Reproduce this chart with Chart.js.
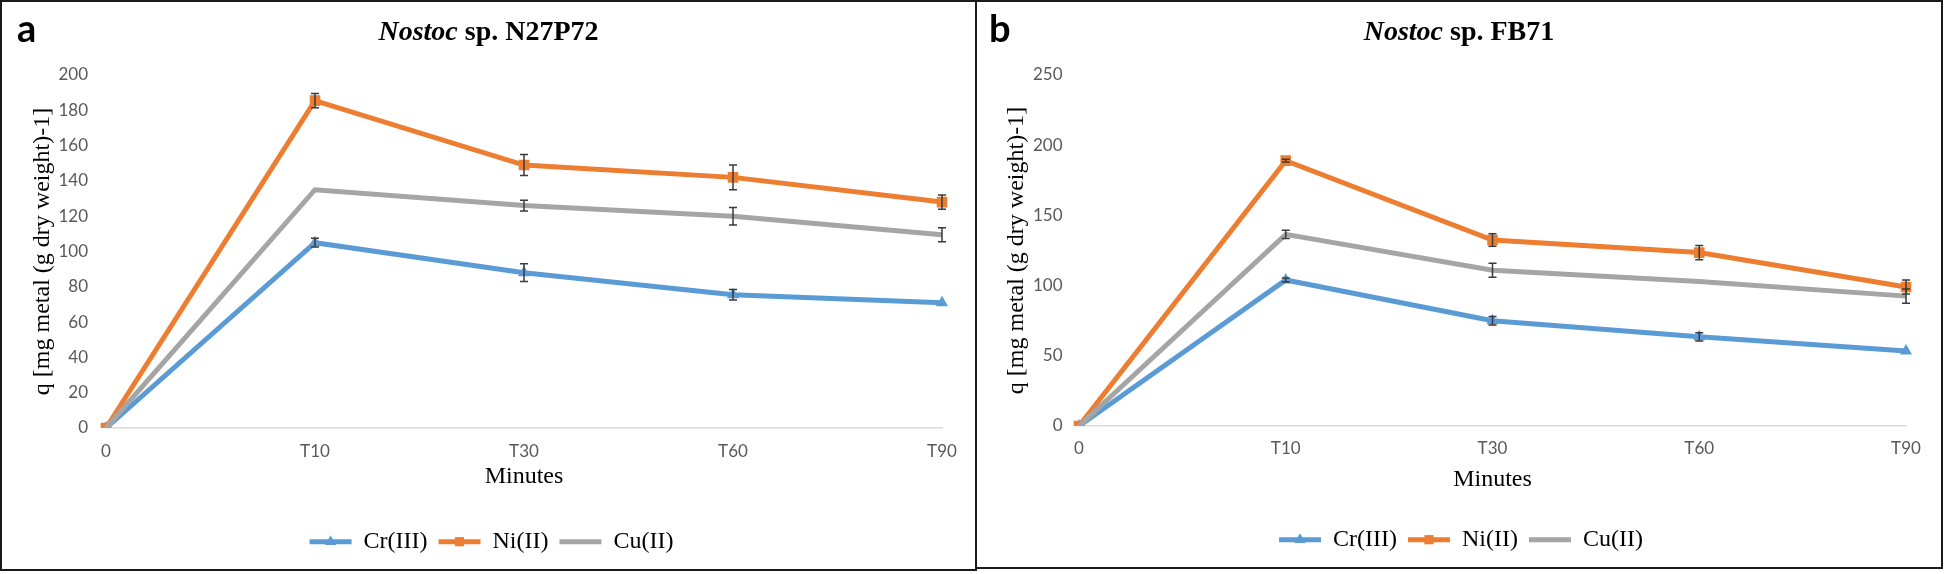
<!DOCTYPE html>
<html>
<head>
<meta charset="utf-8">
<script src="https://cdn.jsdelivr.net/npm/chart.js@4.4.0/dist/chart.umd.min.js"></script>
<style>
  body { margin: 0; width: 1944px; height: 574px; background: #fff; overflow: hidden; }
  .panel { position: absolute; top: 0; border: 2px solid #1a1a1a; }
  #panelA { left: 0; width: 973px; height: 567px; }
  #panelB { left: 975px; width: 964px; height: 565px; }
  canvas { display: block; }
</style>
</head>
<body>
<div class="panel" id="panelA"><canvas id="chartA" width="973" height="567"></canvas></div>
<div class="panel" id="panelB"><canvas id="chartB" width="964" height="565"></canvas></div>

<script>
// categories (sampling times)
const minutes = ['0', 'T10', 'T30', 'T60', 'T90'];
const metals = ['Cr(III)', 'Ni(II)', 'Cu(II)'];

// panel a - Nostoc sp. N27P72
const n27Cr = [0, 105, 88, 75.5, 71];
const n27Ni = [0, 185.5, 149, 142, 128];
const n27Cu = [0, 135, 126, 120, 109.5];
const n27CrErr = [0, 2.5, 5, 3, 0];
const n27NiErr = [0, 4, 6, 7, 4];
const n27CuErr = [0, 0, 3, 5, 4];
const n27Ticks = [0, 20, 40, 60, 80, 100, 120, 140, 160, 180, 200];

// panel b - Nostoc sp. FB71
const fb71Cr = [0, 104, 75, 63.5, 53.5];
const fb71Ni = [0, 189, 132.5, 123.5, 99];
const fb71Cu = [0, 136.5, 111, 103, 92.5];
const fb71CrErr = [0, 1.5, 3, 3, 0];
const fb71NiErr = [0, 1, 4.5, 5, 5];
const fb71CuErr = [0, 3, 5, 0, 5];
const fb71Ticks = [0, 50, 100, 150, 200, 250];

const BLUE = '#5B9BD5';
const ORANGE = '#ED7D31';
const GREY = '#A5A5A5';
const SERIF = '"Liberation Serif", "Times New Roman", serif';
const SANS = 'Lato, "Open Sans", sans-serif';

// error bars, drawn with the chart's own scales
const errorBars = {
  id: 'errorBars',
  afterDatasetsDraw(chart) {
    const ctx = chart.ctx;
    const x = chart.scales.x, y = chart.scales.y;
    ctx.save();
    ctx.strokeStyle = '#3a3a3a';
    ctx.lineWidth = 1.5;
    chart.data.datasets.forEach(ds => {
      (ds.errors || []).forEach((e, i) => {
        if (!e) return;
        const px = x.getPixelForValue(i);
        const top = y.getPixelForValue(ds.data[i] + e);
        const bot = y.getPixelForValue(ds.data[i] - e);
        ctx.beginPath();
        ctx.moveTo(px, top); ctx.lineTo(px, bot);
        ctx.moveTo(px - 4, top); ctx.lineTo(px + 4, top);
        ctx.moveTo(px - 4, bot); ctx.lineTo(px + 4, bot);
        ctx.stroke();
      });
    });
    ctx.restore();
  }
};

// panel letter + title with italic genus name, plus markers on legend lines
const panelDecor = {
  id: 'panelDecor',
  afterDraw(chart, args, opts) {
    const ctx = chart.ctx;
    ctx.save();
    ctx.fillStyle = '#000';
    ctx.textBaseline = 'alphabetic';
    ctx.font = 'bold 38px ' + SANS;
    ctx.fillText(opts.letter, opts.letterX, 40);

    ctx.font = 'italic bold 28px ' + SERIF;
    const w1 = ctx.measureText(opts.genus).width;
    ctx.font = 'bold 28px ' + SERIF;
    const w2 = ctx.measureText(opts.rest).width;
    const x0 = chart.width / 2 - (w1 + w2) / 2;
    ctx.font = 'italic bold 28px ' + SERIF;
    ctx.fillText(opts.genus, x0, 38);
    ctx.font = 'bold 28px ' + SERIF;
    ctx.fillText(opts.rest, x0 + w1, 38);

    const legend = chart.legend;
    legend.legendItems.forEach((item, i) => {
      const ds = chart.data.datasets[item.datasetIndex];
      if (!ds.pointRadius) return;
      const hb = legend.legendHitBoxes[i];
      ctx.fillStyle = ds.borderColor;
      Chart.helpers.drawPoint(ctx, {pointStyle: ds.pointStyle, radius: 6.5, borderWidth: 0},
        hb.left + 21, hb.top + 12);
    });
    ctx.restore();
  }
};

function makeChart(id, cr, ni, cu, crErr, niErr, cuErr, ticks, box, decor) {
  const H = box.canvasH;
  const legendTop = box.legendCenter - 23;
  const ds = (label, data, errors, color, style, r, order) => ({
    label, data, errors, order,
    borderColor: color, backgroundColor: color,
    borderWidth: 5, tension: 0,
    pointStyle: style, pointRadius: r, pointHoverRadius: r,
    pointBackgroundColor: color, pointBorderColor: color, pointBorderWidth: 0
  });
  return new Chart(document.getElementById(id), {
    type: 'line',
    data: {
      labels: minutes,
      datasets: [
        ds(metals[0], cr, crErr, BLUE, 'triangle', 7, 2),
        ds(metals[1], ni, niErr, ORANGE, 'rect', 7.5, 1),
        ds(metals[2], cu, cuErr, GREY, 'circle', 0, 0)
      ]
    },
    options: {
      responsive: false,
      animation: false,
      layout: { padding: { top: box.top, left: box.leftPad, right: box.rightPad,
                           bottom: H - (legendTop + 45) } },
      scales: {
        x: {
          offset: false,
          grid: { display: false, drawTicks: false },
          border: { display: true, color: '#D9D9D9', width: 1.5 },
          ticks: { color: '#595959', font: { family: SANS, size: 17 }, padding: box.tickCenter - 10.2 },
          title: { display: true, text: 'Minutes', color: '#000',
                   font: { family: SERIF, size: 24 },
                   padding: { top: 0, bottom: legendTop - box.bottom - box.xTitleCenter - 14.4 } },
          afterFit(s) { s.height = legendTop - box.bottom; }
        },
        y: {
          min: ticks[0], max: ticks[ticks.length - 1],
          grid: { display: false, drawTicks: false },
          border: { display: false },
          afterBuildTicks(s) { s.ticks = ticks.map(v => ({ value: v })); },
          ticks: { color: '#595959', font: { family: SANS, size: 17 }, padding: box.labelGap },
          title: { display: true, text: 'q [mg metal (g dry weight)-1]', color: '#000',
                   font: { family: SERIF, size: 24 },
                   padding: { top: box.yTitleX - box.leftPad - 14.4, bottom: 0 } },
          afterFit(s) { s.width = box.left - box.leftPad; }
        }
      },
      plugins: {
        legend: {
          position: 'bottom',
          labels: {
            color: '#000',
            font: { family: SERIF, size: 24 },
            boxWidth: 42, boxHeight: 5, padding: 11,
            sort: (a, b) => a.datasetIndex - b.datasetIndex,
            generateLabels(chart) {
              return Chart.defaults.plugins.legend.labels.generateLabels(chart)
                .map(it => Object.assign(it, { lineWidth: 0 }));
            }
          }
        },
        tooltip: { enabled: false },
        panelDecor: decor
      }
    },
    plugins: [errorBars, panelDecor]
  });
}

makeChart('chartA', n27Cr, n27Ni, n27Cu, n27CrErr, n27NiErr, n27CuErr, n27Ticks,
  { canvasH: 567, left: 104, leftPad: 39, rightPad: 33, top: 73, bottom: 426,
    legendCenter: 539.7, xTitleCenter: 49, tickCenter: 23.7, yTitleX: 41, labelGap: 18 },
  { letter: 'a', letterX: 15, genus: 'Nostoc', rest: ' sp. N27P72' });

makeChart('chartB', fb71Cr, fb71Ni, fb71Cu, fb71CrErr, fb71NiErr, fb71CuErr, fb71Ticks,
  { canvasH: 565, left: 102, leftPad: 39, rightPad: 35, top: 73, bottom: 424,
    legendCenter: 537.7, xTitleCenter: 54, tickCenter: 22.6, yTitleX: 40, labelGap: 16.5 },
  { letter: 'b', letterX: 12, genus: 'Nostoc', rest: ' sp. FB71' });
</script>
</body>
</html>
